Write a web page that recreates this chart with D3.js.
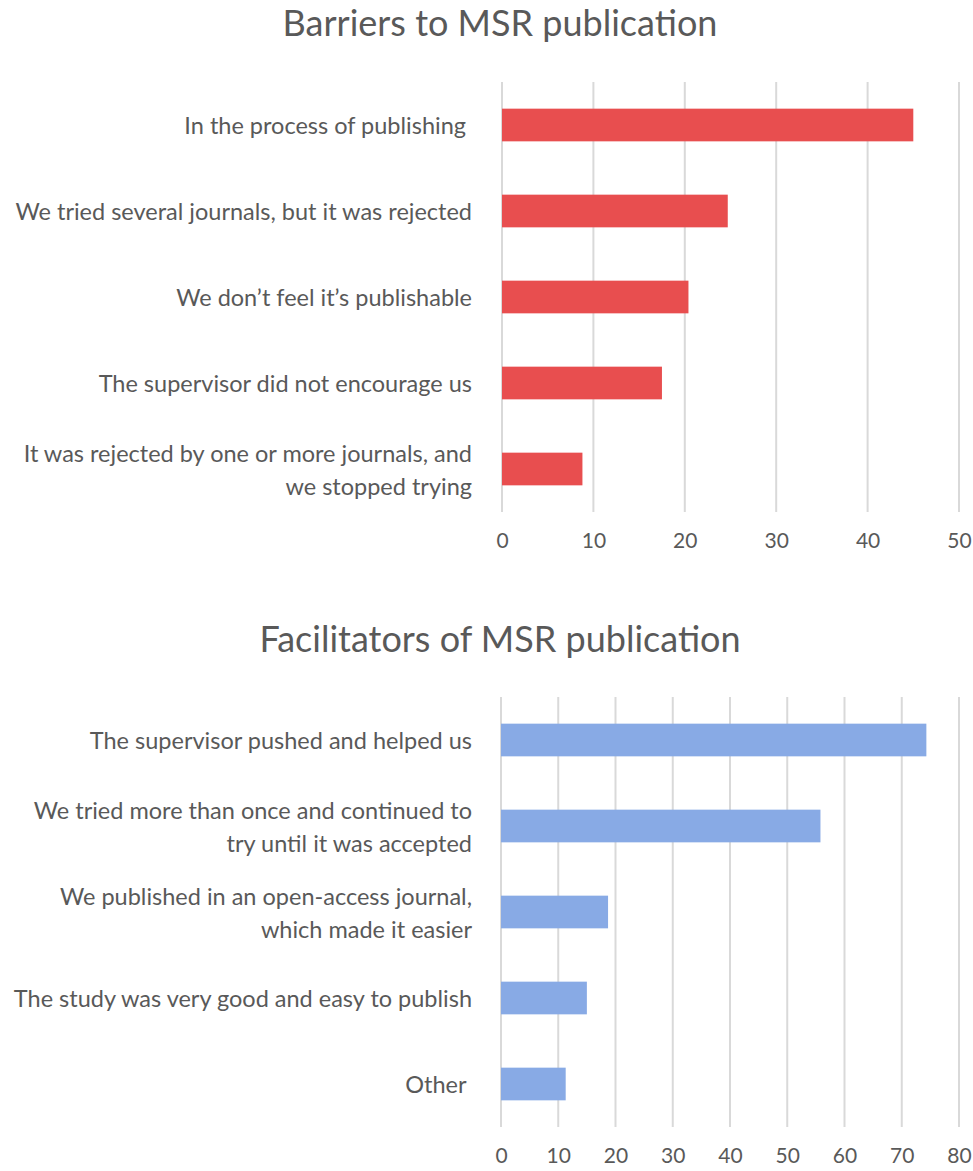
<!DOCTYPE html>
<html>
<head>
<meta charset="utf-8">
<title>MSR publication</title>
<script src="https://cdn.jsdelivr.net/npm/d3@7"></script>
<style>
  body { margin: 0; background: #fff; }
  text { font-family: Lato, "Open Sans", sans-serif; fill: #595959; }
  .title { font-size: 36px; }
  .cat { font-size: 23.5px; white-space: pre; }
  .tick text { font-size: 21px; }
</style>
</head>
<body>
<script>
// data
var barrierLabels = [
  "In the process of publishing ",
  "We tried several journals, but it was rejected",
  "We don\u2019t feel it\u2019s publishable",
  "The supervisor did not encourage us",
  "It was rejected by one or more journals, and\nwe stopped trying"
];
var barrierValues = [45, 24.7, 20.4, 17.5, 8.8];
var barrierTicks = [0, 10, 20, 30, 40, 50];

var facilitatorLabels = [
  "The supervisor pushed and helped us",
  "We tried more than once and continued to\ntry until it was accepted",
  "We published in an open-access journal,\nwhich made it easier",
  "The study was very good and easy to publish",
  "Other "
];
var facilitatorValues = [74.3, 55.8, 18.7, 15.0, 11.3];
var facilitatorTicks = [0, 10, 20, 30, 40, 50, 60, 70, 80];

var w = 973, h = 1171;
var svg = d3.select('body').append('svg').attr('width', w).attr('height', h);

function drawChart(opts) {
  var g = svg.append('g');
  var x = d3.scaleLinear().domain([0, opts.max]).range([opts.left, 959]);
  var y = d3.scaleBand().domain(d3.range(opts.labels.length))
    .range([opts.top, opts.top + 430]).paddingInner(0.62).paddingOuter(0.31);

  g.append('text').attr('class', 'title')
    .attr('x', 500).attr('y', opts.titleY)
    .attr('text-anchor', 'middle').text(opts.title);

  // gridlines
  g.selectAll('line.grid').data(opts.ticks).enter().append('line')
    .attr('class', 'grid')
    .attr('x1', function(d) { return x(d); }).attr('x2', function(d) { return x(d); })
    .attr('y1', opts.top).attr('y2', opts.top + 430)
    .attr('stroke', '#d9d9d9').attr('stroke-width', 2);

  // bars
  g.selectAll('rect').data(opts.values).enter().append('rect')
    .attr('x', x(0))
    .attr('y', function(d, i) { return y(i); })
    .attr('width', function(d) { return x(d) - x(0); })
    .attr('height', y.bandwidth())
    .attr('fill', opts.color);

  // category labels
  var cats = g.selectAll('text.cat').data(opts.labels).enter().append('text')
    .attr('class', 'cat')
    .attr('text-anchor', 'end')
    .attr('dominant-baseline', 'central');
  cats.each(function(d, i) {
    var lines = d.split('\n');
    var cy = y(i) + y.bandwidth() / 2 - (lines.length - 1) * 16.5;
    var t = d3.select(this);
    lines.forEach(function(line, j) {
      t.append('tspan').attr('x', 472).attr('y', cy + j * 33).text(line);
    });
  });

  // x axis
  var axis = d3.axisBottom(x).tickValues(opts.ticks).tickSize(0).tickPadding(21);
  var ax = g.append('g').attr('transform', 'translate(0,' + (opts.top + 430) + ')').call(axis);
  ax.select('.domain').remove();
  ax.selectAll('text').attr('fill', '#595959');
}

drawChart({ title: 'Barriers to MSR publication', titleY: 36, top: 82, left: 502, max: 50,
  labels: barrierLabels, values: barrierValues, ticks: barrierTicks, color: '#e84e4f' });
drawChart({ title: 'Facilitators of MSR publication', titleY: 652, top: 697, left: 501, max: 80,
  labels: facilitatorLabels, values: facilitatorValues, ticks: facilitatorTicks, color: '#88aae5' });
</script>
</body>
</html>
